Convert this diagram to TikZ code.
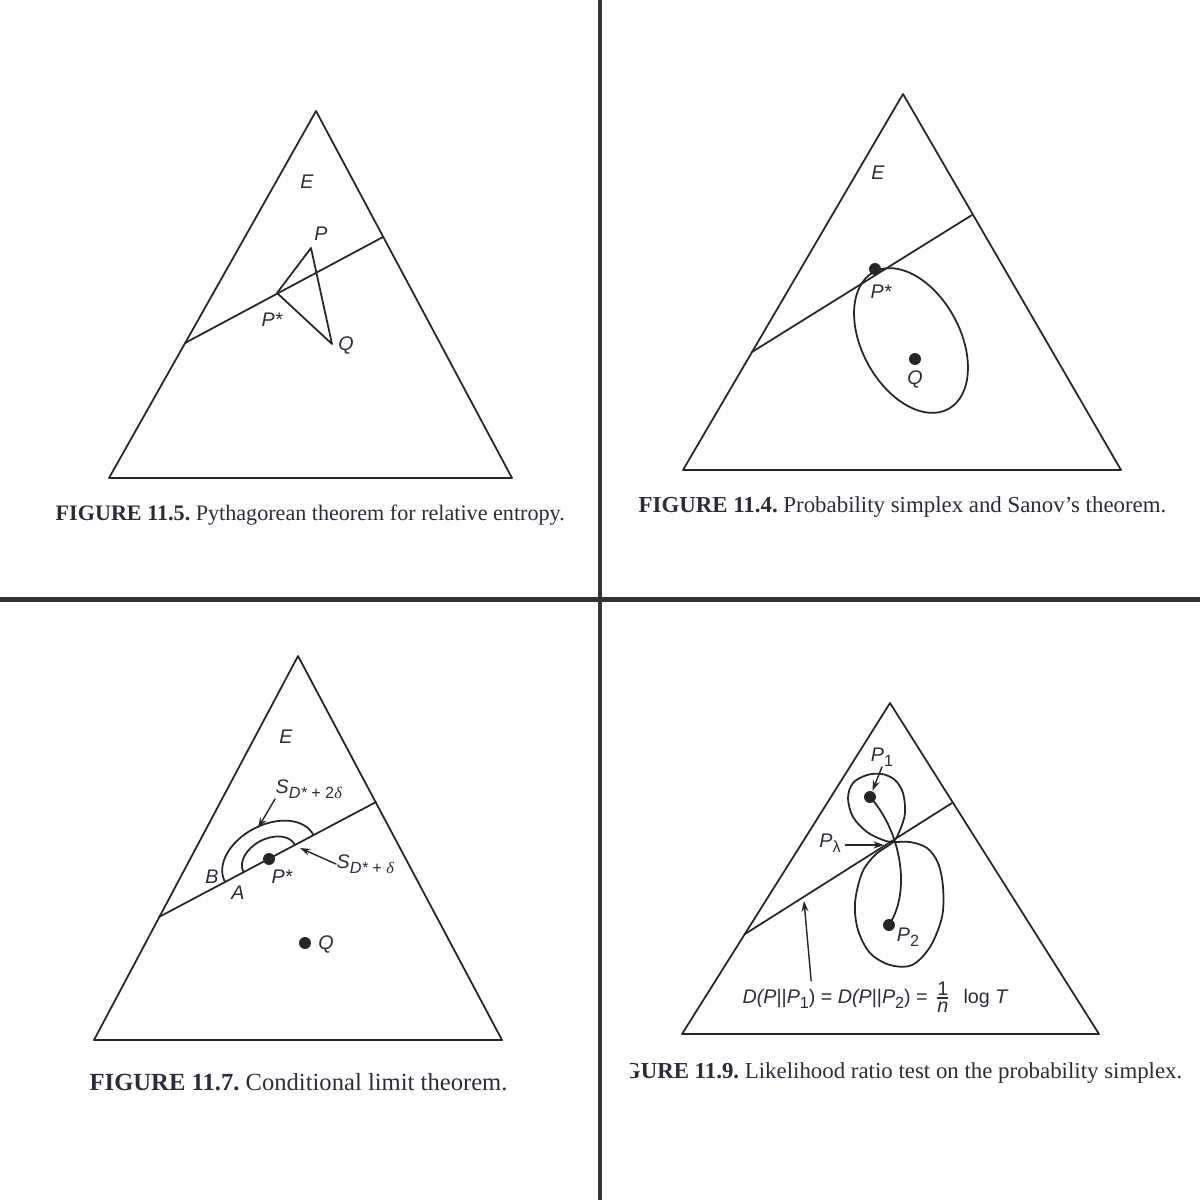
\documentclass[tikz,border=0pt]{standalone}
\usepackage{fontspec}
\setmainfont{Liberation Serif}
\setsansfont{Liberation Sans}
\usetikzlibrary{arrows.meta,calc}
\definecolor{ink}{HTML}{262626}
\definecolor{txt}{HTML}{2C2C38}
\definecolor{rulegray}{HTML}{333333}
\newcommand{\subsc}[1]{\raisebox{-0.45ex}{\fontsize{4.6}{5}\selectfont #1}}

\begin{document}
\begin{tikzpicture}[x=0.01cm,y=0.01cm,line cap=round,line join=round,
  edge/.style={line width=0.5pt,draw=ink},
  lbl/.style={font=\fontsize{5.6}{6}\selectfont\sffamily\itshape,text=txt,inner sep=0pt},
  captxt/.style={font=\fontsize{#1}{8}\selectfont,text=txt,inner sep=0pt,anchor=base west},
  dot/.style={circle,fill=ink,inner sep=0pt,minimum size=3.4pt},
  arr/.style={-{Stealth[length=3pt,width=2pt]},line width=0.4pt,draw=ink}]
  \useasboundingbox[fill=white] (0,0) rectangle (1200,-1200);
  \draw[rulegray,line width=1.2pt] (600,0)--(600,-1200) (0,-599.5)--(1200,-599.5);

  \coordinate (a1) at (316,-111); \coordinate (b1) at (109,-478); \coordinate (c1) at (512,-478);
  \coordinate (l1) at (185,-343); \coordinate (r1) at (383,-237);
  \coordinate (ps1) at (277,-293); \coordinate (pp1) at (311,-248); \coordinate (q1) at (332,-344);
  \draw[edge] (a1)--(b1)--(c1)--cycle;
  \draw[edge] (l1)--(r1);
  \draw[edge] (ps1)--(pp1)--(q1)--cycle;
  \node[lbl] (e1) at (307,-182) {E};
  \node[lbl] (plbl1) at (321,-234) {P};
  \node[lbl] (pslbl1) at (272,-320) {P*};
  \node[lbl] (qlbl1) at (346,-345) {Q};
  \node[captxt=6.29] (cap1) at (55,-520) {\textbf{FIGURE 11.5.}\ Pythagorean theorem for relative entropy.};

  \coordinate (a2) at (903,-94); \coordinate (b2) at (683,-470); \coordinate (c2) at (1121,-470);
  \coordinate (l2) at (752,-352); \coordinate (r2) at (972,-215);
  \draw[edge] (a2)--(b2)--(c2)--cycle;
  \draw[edge] (l2)--(r2);
  \draw[edge] (911,-340.5) ellipse [x radius=49,y radius=78,rotate=28.6];
  \node[dot] (ps2) at (875,-269) {};
  \node[dot] (q2) at (915,-359) {};
  \node[lbl] (e2) at (878,-173) {E};
  \node[lbl] (pslbl2) at (881,-292) {P*};
  \node[lbl] (qlbl2) at (915,-379) {Q};
  \node[captxt=6.5] (cap2) at (638,-512) {\textbf{FIGURE 11.4.}\ Probability simplex and Sanov's theorem.};

  \coordinate (a3) at (298,-656); \coordinate (b3) at (94,-1040); \coordinate (c3) at (502,-1040);
  \coordinate (l3) at (159,-917); \coordinate (r3) at (376,-802);
  \draw[edge] (a3)--(b3)--(c3)--cycle;
  \draw[edge] (l3)--(r3);
  \begin{scope}[shift={(269,-858)},rotate=27.9]
    \draw[edge] (-50,0) arc[start angle=180,end angle=0,x radius=50,y radius=33];
    \draw[edge] (-29,0) arc[start angle=180,end angle=0,x radius=29,y radius=19];
  \end{scope}
  \node[dot] (ps3) at (269,-859) {};
  \node[dot] (q3) at (305,-943) {};
  \node[lbl] (e3) at (286,-737) {E};
  \node[lbl,anchor=west] (s2d) at (275,-789) {S\subsc{D*\upshape\ + 2{\rmfamily\itshape δ}}};
  \node[lbl,anchor=west] (s1d) at (336,-864) {S\subsc{D*\upshape\ + {\rmfamily\itshape δ}}};
  \coordinate (s2tip) at (258,-828); \coordinate (s1tip) at (300,-848);
  \draw[arr] (s2d.south west) -- (s2tip);
  \draw[arr] (s1d.west) -- (s1tip);
  \node[lbl] (bl3) at (212,-877) {B};
  \node[lbl] (al3) at (238,-893) {A};
  \node[lbl] (pslbl3) at (282,-877) {P*};
  \node[lbl] (qlbl3) at (326,-944) {Q};
  \node[captxt=7.0] (cap3) at (89,-1090) {\textbf{FIGURE 11.7.}\ Conditional limit theorem.};

  \coordinate (a4) at (890,-703); \coordinate (b4) at (682,-1034); \coordinate (c4) at (1099,-1034);
  \coordinate (l4) at (745,-934); \coordinate (r4) at (952,-803);
  \draw[edge] (a4)--(b4)--(c4)--cycle;
  \draw[edge] (l4)--(r4);
  \draw[edge] plot[smooth cycle,tension=0.55] coordinates {(893,-842) (910,-842) (927,-848) (938,-863) (943,-887)
    (942,-917) (930,-947) (912,-965) (890,-965) (870,-953) (858,-930) (855,-903) (862,-873) (875,-855)
    (893,-842) (900,-830) (905,-813) (903,-793) (895,-780) (882,-774) (867,-775) (853,-783) (848,-798)
    (853,-817) (867,-832) (883,-840)};
  \node[dot] (pone) at (870,-797) {};
  \node[dot] (ptwo) at (889,-925) {};
  \draw[edge] (pone.center) .. controls (900,-830) and (912,-890) .. (ptwo.center);
  \node[lbl] (p1lbl) at (882,-757) {P\subsc{\upshape 1}};
  \node[lbl] (p2lbl) at (908,-937) {P\subsc{\upshape 2}};
  \node[lbl] (pllbl) at (830,-843) {P\subsc{\upshape λ}};
  \draw[arr] (p1lbl.south) -- (pone);
  \draw[arr] (pllbl.east) ++(4,-2) -- (884,-845);
  \node[lbl] (fml) at (875,-997) {D(P\upshape||\itshape P\subsc{\upshape 1}\upshape) = \itshape D(P\upshape||\itshape P\subsc{\upshape 2}\upshape) = $\frac{\mbox{\sffamily 1}}{\mbox{\sffamily\itshape n}}$\ \ log \itshape T};
  \coordinate (dtip) at (804,-901);
  \draw[arr] ($(fml.north west)!0.26!(fml.north east)$) -- (dtip);
  \begin{scope}
    \clip (630,-1040) rectangle (1200,-1100);
    \node[captxt=6.5,anchor=base east] (cap4) at (1183,-1078) {\textbf{FIGURE 11.9.}\ Likelihood ratio test on the probability simplex.};
  \end{scope}
\end{tikzpicture}
\end{document}
